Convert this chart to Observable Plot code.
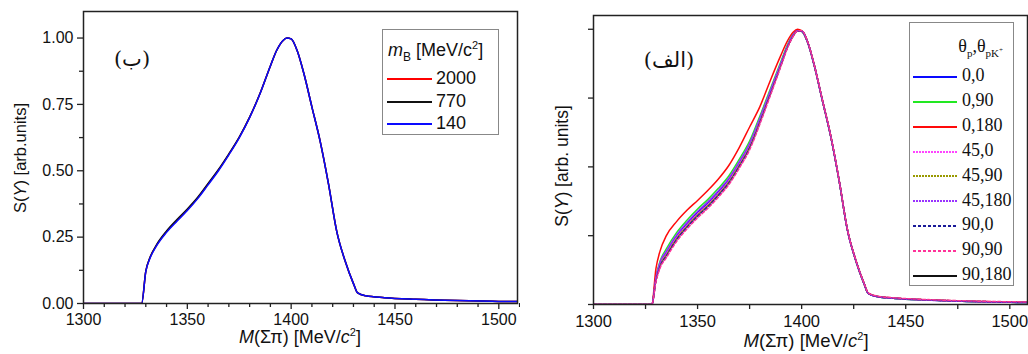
<!DOCTYPE html>
<html><head><meta charset="utf-8">
<script src="https://cdn.jsdelivr.net/npm/d3@7"></script>
<script src="https://cdn.jsdelivr.net/npm/@observablehq/plot@0.6"></script>
<style>
body{margin:0;background:#fff;width:1028px;height:354px;overflow:hidden;position:relative;font-family:"Liberation Sans",Arial,sans-serif;color:#111;}
.abs{position:absolute;}
.ylab{position:absolute;transform:translate(-50%,-50%) rotate(-90deg);white-space:nowrap;font-size:16.5px;}
.xlab{position:absolute;transform:translate(-50%,-50%);white-space:nowrap;font-size:18px;}
.box{position:absolute;border:1.3px solid #888;background:#fff;}
.row{position:absolute;white-space:nowrap;}
.ar{position:absolute;transform:translate(-50%,-50%);font-family:"DejaVu Serif","DejaVu Sans",serif;font-size:21px;white-space:nowrap;}
</style></head><body>
<div id="left" class="abs" style="left:0;top:0"></div>
<div id="right" class="abs" style="left:520px;top:0"></div>
<div class="ylab" style="left:20px;top:158px">S(<i>Y</i>) [arb.units]</div>
<div class="xlab" style="left:300px;top:337px"><i>M</i>(Σπ) [MeV/<i>c</i><sup style="font-size:11px">2</sup>]</div>
<div class="ylab" style="left:562px;top:166px;font-size:17.5px">S(<i>Y</i>) [arb. units]</div>
<div class="xlab" style="left:806px;top:341px;font-size:18.5px"><i>M</i>(Σπ) [MeV/<i>c</i><sup style="font-size:11px">2</sup>]</div>
<div class="ar" style="left:132px;top:59px">(ب)</div>
<div class="ar" style="left:669px;top:60px">(الف)</div>
<div id="legL"></div>
<div id="legR"></div>
<script>
// ---------- data ----------
const mass = [1300,1328,1330,1332,1335,1340,1345,1350,1355,1360,1365,1370,1375,1380,1385,1390,1393,1396,1398,1400,1403,1406,1410,1414,1418,1422,1426,1430,1432,1436,1445,1460,1480,1500,1510];

const leftLabels = ["2000","770","140"];
const left2000 = [0,0,0.121,0.172,0.217,0.271,0.313,0.353,0.398,0.45,0.503,0.562,0.626,0.701,0.791,0.895,0.953,0.99,1.0,0.997,0.95,0.87,0.74,0.61,0.45,0.27,0.16,0.075,0.04,0.029,0.022,0.016,0.011,0.008,0.007];
const left770  = [0,0,0.122,0.173,0.219,0.273,0.316,0.356,0.4,0.452,0.505,0.564,0.627,0.702,0.791,0.895,0.953,0.99,1.0,0.997,0.95,0.87,0.74,0.61,0.45,0.27,0.16,0.075,0.04,0.029,0.022,0.016,0.011,0.008,0.007];
const left140  = [0,0,0.12,0.17,0.215,0.268,0.31,0.35,0.395,0.447,0.5,0.56,0.624,0.70,0.79,0.895,0.953,0.99,1.0,0.997,0.95,0.87,0.74,0.61,0.45,0.27,0.16,0.075,0.04,0.029,0.022,0.016,0.011,0.008,0.007];

const rightLabels = ["0,0","0,90","0,180","45,0","45,90","45,180","90,0","90,90","90,180"];
const r0_0    = [0,0,0.095,0.15,0.19,0.25,0.295,0.335,0.37,0.41,0.455,0.515,0.582,0.675,0.775,0.875,0.935,0.98,0.995,0.993,0.95,0.87,0.74,0.61,0.45,0.27,0.16,0.075,0.04,0.029,0.022,0.016,0.011,0.008,0.007];
const r0_90   = [0,0,0.1,0.158,0.202,0.262,0.307,0.347,0.382,0.422,0.467,0.527,0.594,0.686,0.784,0.882,0.94,0.983,0.996,0.993,0.95,0.87,0.74,0.61,0.45,0.27,0.16,0.075,0.04,0.029,0.022,0.016,0.011,0.008,0.007];
const r0_180  = [0,0,0.13,0.195,0.25,0.302,0.343,0.378,0.415,0.456,0.505,0.57,0.645,0.72,0.815,0.905,0.955,0.99,1.0,0.995,0.952,0.872,0.742,0.612,0.452,0.272,0.162,0.077,0.041,0.03,0.023,0.017,0.012,0.009,0.008];
const r45_0   = [0,0,0.09,0.145,0.184,0.244,0.289,0.329,0.364,0.404,0.449,0.509,0.576,0.67,0.77,0.871,0.932,0.978,0.995,0.994,0.951,0.871,0.741,0.611,0.451,0.271,0.161,0.076,0.041,0.03,0.023,0.017,0.012,0.009,0.008];
const r45_90  = [0,0,0.087,0.142,0.18,0.24,0.285,0.325,0.36,0.4,0.445,0.505,0.572,0.666,0.767,0.869,0.931,0.977,0.995,0.994,0.951,0.871,0.741,0.611,0.451,0.271,0.161,0.076,0.041,0.03,0.023,0.017,0.012,0.009,0.008];
const r45_180 = [0,0,0.097,0.154,0.194,0.254,0.299,0.339,0.374,0.414,0.459,0.519,0.586,0.679,0.778,0.877,0.936,0.981,0.995,0.993,0.95,0.87,0.74,0.61,0.45,0.27,0.16,0.075,0.04,0.029,0.022,0.016,0.011,0.008,0.007];
const r90_0   = [0,0,0.085,0.138,0.176,0.236,0.281,0.321,0.356,0.396,0.441,0.501,0.568,0.662,0.764,0.867,0.93,0.976,0.994,0.994,0.951,0.871,0.741,0.611,0.451,0.271,0.161,0.076,0.041,0.03,0.023,0.017,0.012,0.009,0.008];
const r90_90  = [0,0,0.082,0.133,0.17,0.23,0.275,0.315,0.35,0.39,0.435,0.495,0.562,0.657,0.76,0.865,0.928,0.975,0.994,0.995,0.952,0.872,0.742,0.612,0.452,0.272,0.162,0.077,0.042,0.031,0.024,0.018,0.013,0.01,0.009];
const r90_180 = [0,0,0.093,0.147,0.187,0.247,0.292,0.332,0.367,0.407,0.452,0.512,0.579,0.672,0.772,0.873,0.933,0.979,0.995,0.993,0.95,0.87,0.74,0.61,0.45,0.27,0.16,0.075,0.04,0.029,0.022,0.016,0.011,0.008,0.007];

const leftXTicks = [1300,1350,1400,1450,1500];
const leftXMinor = [1310,1320,1330,1340,1360,1370,1380,1390,1410,1420,1430,1440,1460,1470,1480,1490,1510];
const leftYTicks = [0,0.25,0.5,0.75,1.0];
const leftYMinor = [0.125,0.375,0.625,0.875];
const rightXTicks = [1300,1350,1400,1450,1500];
const rightXMinor = [1325,1375,1425,1475];
const rightYTicks = [0,0.25,0.5,0.75,1.0];

// ---------- styles ----------
const leftSeries = [
  {label:leftLabels[0], vals:left2000, color:"#ff0000", dash:null},
  {label:leftLabels[1], vals:left770,  color:"#111111", dash:null},
  {label:leftLabels[2], vals:left140,  color:"#0a0aff", dash:null}
];
const rightSeries = [
  {label:rightLabels[0], vals:r0_0,    color:"#0a0aff", dash:null},
  {label:rightLabels[1], vals:r0_90,   color:"#22e822", dash:null},
  {label:rightLabels[2], vals:r0_180,  color:"#ff0a0a", dash:null},
  {label:rightLabels[3], vals:r45_0,   color:"#ff44ff", dash:"1.5,1"},
  {label:rightLabels[4], vals:r45_90,  color:"#999900", dash:"1.5,1"},
  {label:rightLabels[5], vals:r45_180, color:"#9933ff", dash:"1.5,1"},
  {label:rightLabels[6], vals:r90_0,   color:"#1a1a99", dash:"3,2"},
  {label:rightLabels[7], vals:r90_90,  color:"#ff3399", dash:"3,2"},
  {label:rightLabels[8], vals:r90_180, color:"#111111", dash:null}
];
const rows = s => mass.map((m,i)=>({m, v:s.vals[i]}));
const lineMark = s => Plot.line(rows(s), {x:"m", y:"v", stroke:s.color, strokeWidth:1.5, strokeDasharray:s.dash, curve:"monotone-x", clip:true});
const axisColor = "#222";

// ---------- left plot ----------
const leftPlot = Plot.plot({
  width:520, height:354,
  marginLeft:83, marginRight:3, marginTop:11, marginBottom:51,
  style:{fontFamily:"'Liberation Sans', Arial, sans-serif", fontSize:"16px", color:"#111", background:"transparent"},
  x:{domain:[1300,1509]},
  y:{domain:[0,1.1]},
  marks:[
    lineMark(leftSeries[0]), lineMark(leftSeries[1]), lineMark(leftSeries[2]),
    Plot.axisX({ticks:leftXMinor, tickSize:4, tickFormat:()=>"", label:null, stroke:axisColor, strokeWidth:1.3}),
    Plot.axisX({ticks:leftXTicks, tickSize:6, tickPadding:4, tickFormat:d3.format("d"), label:null, stroke:axisColor, strokeWidth:1.3, fill:"#111"}),
    Plot.axisY({ticks:leftYMinor, tickSize:4, tickFormat:()=>"", label:null, stroke:axisColor, strokeWidth:1.3}),
    Plot.axisY({ticks:leftYTicks, tickSize:6, tickPadding:4, tickFormat:d3.format(".2f"), label:null, stroke:axisColor, strokeWidth:1.3, fill:"#111"}),
    Plot.frame({stroke:axisColor, strokeWidth:1.5})
  ]
});
document.getElementById("left").append(leftPlot);

// ---------- right plot ----------
const order = [8,0,1,2,3,4,5,6,7];
const rightPlot = Plot.plot({
  width:508, height:354,
  marginLeft:73, marginRight:1, marginTop:15, marginBottom:50,
  style:{fontFamily:"'Liberation Sans', Arial, sans-serif", fontSize:"16.5px", color:"#111", background:"transparent"},
  x:{domain:[1300,1508.5]},
  y:{domain:[0,1.05]},
  marks:[
    ...order.map(i=>lineMark(rightSeries[i])),
    Plot.axisX({ticks:rightXMinor, tickSize:5, tickFormat:()=>"", label:null, stroke:axisColor, strokeWidth:1.3}),
    Plot.axisX({ticks:rightXTicks, tickSize:5, tickPadding:6, tickFormat:d3.format("d"), label:null, stroke:axisColor, strokeWidth:1.3, fill:"#111"}),
    Plot.axisY({ticks:rightYTicks, tickSize:5, tickFormat:()=>"", label:null, stroke:axisColor, strokeWidth:1.3}),
    Plot.frame({stroke:axisColor, strokeWidth:1.5})
  ]
});
document.getElementById("right").append(rightPlot);

// ---------- legends ----------
function sample(s, w){
  return `<svg width="${w}" height="6" style="vertical-align:middle" shape-rendering="crispEdges"><line x1="0" y1="3" x2="${w}" y2="3" stroke="${s.color}" stroke-width="2" ${s.dash?`stroke-dasharray="${s.dash==='1.5,1'?'2,1':s.dash}"`:""}/></svg>`;
}
const legL = document.getElementById("legL");
legL.innerHTML = `<div class="box" style="left:382px;top:29px;width:115px;height:104px"></div>
<div class="row" style="left:388px;top:39px;font-size:18px"><i>m</i><sub style="font-size:12px">B</sub> [MeV/c<sup style="font-size:11px">2</sup>]</div>`;
leftSeries.forEach((s,i)=>{
  const d = document.createElement("div");
  d.className="row";
  d.style.left="387px"; d.style.top=(68+i*22.5)+"px"; d.style.fontSize="18px"; d.style.lineHeight="20px";
  d.innerHTML = sample(s,45)+`<span style="margin-left:4px">${s.label}</span>`;
  legL.append(d);
});
const legR = document.getElementById("legR");
legR.innerHTML = `<div class="box" style="left:909px;top:22px;width:103px;height:262px"></div>
<div class="row" style="right:25px;top:36px;font-family:'Liberation Serif',serif;font-size:18px">θ<sub style="font-size:11px">p</sub>,θ<sub style="font-size:11px">pK<sup style="font-size:7px">+</sup></sub></div>`;
rightSeries.forEach((s,i)=>{
  const d = document.createElement("div");
  d.className="row";
  d.style.left="913px"; d.style.top=(65+i*24.9)+"px"; d.style.fontFamily="'Liberation Serif',serif"; d.style.fontSize="18px"; d.style.lineHeight="20px";
  d.innerHTML = sample(s,44)+`<span style="margin-left:5px">${s.label}</span>`;
  legR.append(d);
});
</script>
</body></html>
